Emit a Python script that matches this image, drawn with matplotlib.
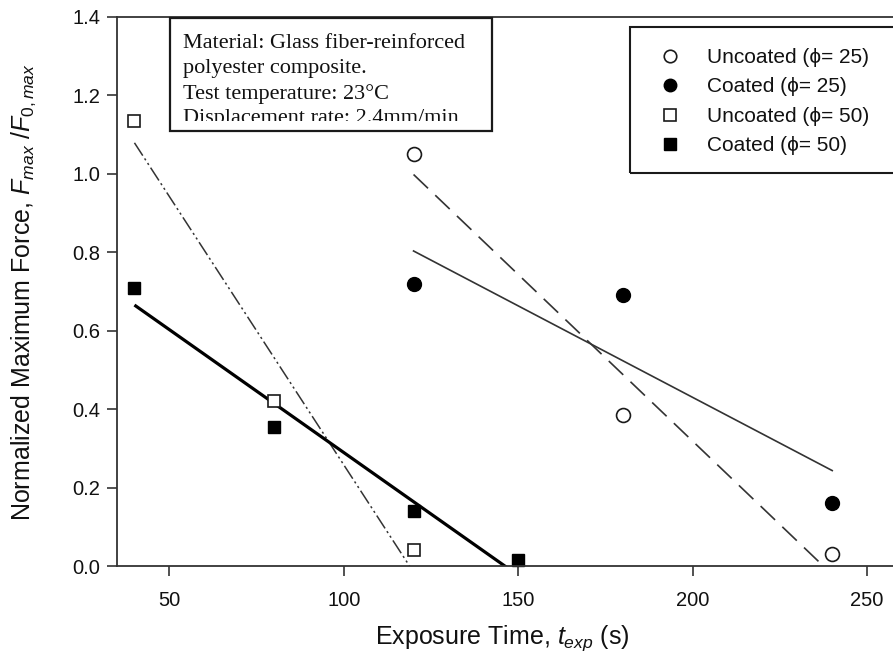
import numpy as np
import matplotlib
matplotlib.use("Agg")
import matplotlib.pyplot as plt
from matplotlib.patches import Rectangle

# ---- data ----
t_unc25 = [120, 180, 240]
f_unc25 = [1.05, 0.385, 0.03]
t_coat25 = [120, 180, 240]
f_coat25 = [0.72, 0.69, 0.16]
t_unc50 = [40, 80, 120]
f_unc50 = [1.135, 0.42, 0.04]
t_coat50 = [40, 80, 120, 150]
f_coat50 = [0.71, 0.355, 0.14, 0.015]

labels = ["Uncoated (\u03d5= 25)", "Coated (\u03d5= 25)",
          "Uncoated (\u03d5= 50)", "Coated (\u03d5= 50)"]
xticks = [50, 100, 150, 200, 250]
yticks = [0.0, 0.2, 0.4, 0.6, 0.8, 1.0, 1.2, 1.4]

plt.rcParams['font.family'] = ['Liberation Sans', 'DejaVu Sans']
plt.rcParams['mathtext.fontset'] = 'custom'
plt.rcParams['mathtext.rm'] = 'Liberation Sans'
plt.rcParams['mathtext.it'] = 'Liberation Sans:italic'
plt.rcParams['mathtext.bf'] = 'Liberation Sans:bold'

W, H = 893, 663
fig = plt.figure(figsize=(W / 100, H / 100), dpi=100)

def fx(px):
    return px / W

def fy(py):
    return 1 - py / H

left, right, top, bottom = 117, 902, 17, 566
ax = fig.add_axes([fx(left), fy(bottom), fx(right - left), (bottom - top) / H])
ax.set_xlim(35, 260)
ax.set_ylim(0, 1.4)

dark = '#1a1a1a'
grey = '#333333'

def fit_line(x, y):
    p = np.polyfit(x, y, 1)
    xs = np.array([min(x), max(x)], dtype=float)
    return xs, np.polyval(p, xs)

# regression lines
xs, ys = fit_line(t_unc25, f_unc25)
ax.plot(xs, ys, color=grey, lw=1.2, linestyle=(0, (12, 6)))
xs, ys = fit_line(t_coat25, f_coat25)
ax.plot(xs, ys, color=grey, lw=1.2, linestyle='-')
xs, ys = fit_line(t_unc50, f_unc50)
ax.plot(xs, ys, color=grey, lw=1.1, linestyle=(0, (10, 2.2, 1.4, 2.2, 1.4, 2.2)))
xs, ys = fit_line(t_coat50, f_coat50)
ax.plot(xs, ys, color='black', lw=2.3, linestyle='-', solid_capstyle='butt')

# markers
h1, = ax.plot(t_unc25, f_unc25, 'o', ms=10, mfc='white', mec=dark, mew=1.2, ls='none', clip_on=False)
h2, = ax.plot(t_coat25, f_coat25, 'o', ms=10, mfc='black', mec='black', mew=1.0, ls='none', clip_on=False)
h3, = ax.plot(t_unc50, f_unc50, 's', ms=9, mfc='white', mec=dark, mew=1.2, ls='none', clip_on=False)
h4, = ax.plot(t_coat50, f_coat50, 's', ms=9, mfc='black', mec='black', mew=1.0, ls='none', clip_on=False)

# axes style
for s in ['top', 'bottom', 'left']:
    ax.spines[s].set_color(grey)
    ax.spines[s].set_linewidth(1.3)
ax.spines['right'].set_visible(False)
ax.set_xticks(xticks)
ax.set_yticks(yticks)
ax.set_yticklabels([f"{v:.1f}" for v in yticks])
ax.tick_params(direction='out', length=7, width=1.2, color=grey,
               labelsize=14.5, labelcolor='#111111', pad=5)
ax.tick_params(axis='x', pad=11)

fig.text(fx(502), fy(638), "Exposure Time, $t_{exp}$ (s)", fontsize=18,
         color='#111111', ha='center', va='center')
fig.text(fx(24), fy(292), "Normalized Maximum Force, $F_{max}$ /$F_{0,max}$",
         fontsize=18, color='#111111', ha='center', va='center', rotation=90)

# legend (frameless) + manual frame extending beyond figure
leg = fig.legend([h1, h2, h3, h4], labels, loc='upper left',
                 bbox_to_anchor=(fx(653), fy(48)), frameon=False,
                 fontsize=15, markerscale=0.9, handlelength=1.6,
                 handletextpad=0.99, labelspacing=0.5, borderpad=0, borderaxespad=0)
for t in leg.get_texts():
    t.set_color('#111111')
fig.add_artist(Rectangle((fx(630), fy(173)), fx(300), (173 - 27) / H,
                         transform=fig.transFigure, fill=False,
                         edgecolor=dark, lw=1.5))

# info text box with clipped text
box = Rectangle((fx(170), fy(131)), fx(492 - 170), (131 - 18) / H,
                transform=fig.transFigure, facecolor='white',
                edgecolor=dark, lw=1.6, zorder=5)
fig.add_artist(box)
info = ("Material: Glass fiber-reinforced\npolyester composite.\n"
        "Test temperature: 23\u00b0C\nDisplacement rate: 2.4mm/min")
txt = fig.text(fx(183), fy(34), info, family=['Liberation Serif', 'DejaVu Serif'],
               fontsize=16, va='top', ha='left', color='#111111',
               linespacing=1.41, zorder=6)
clip = Rectangle((fx(170), fy(121)), fx(492 - 170), (121 - 18) / H,
                 transform=fig.transFigure)
txt.set_clip_path(clip)

fig.savefig("out.png", dpi=100)
